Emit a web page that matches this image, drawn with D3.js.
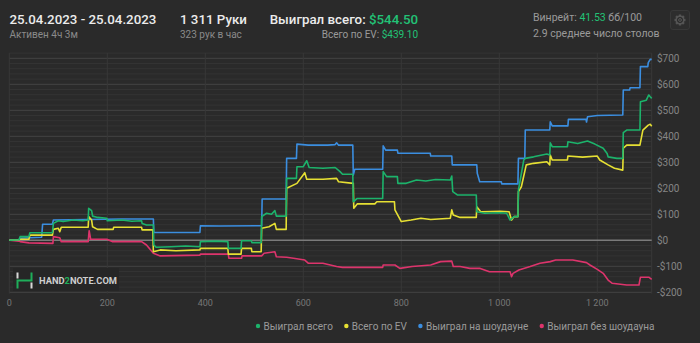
<!DOCTYPE html>
<html>
<head>
<meta charset="utf-8">
<script src="https://cdn.jsdelivr.net/npm/d3@7"></script>
<style>
  html, body { margin: 0; padding: 0; background: #2a2a2a; }
  svg { display: block; font-family: Roboto, "Noto Sans", Arial, sans-serif; }
</style>
</head>
<body>
<svg id="chart" width="700" height="343"></svg>
<script>

// hands played vs. dollars
var won_total = [[0,0],[20,2],[22,14],[40,14],[42,29],[88,29],[90,65],[100,75],[110,72],[130,78],[150,75],[161,78],[162,123],[168,114],[170,93],[180,88],[199,85],[200,75],[230,78],[250,73],[270,75],[271,65],[280,59],[294,59],[295,-18],[300,-27],[330,-25],[360,-22],[389,-25],[390,-5],[420,-3],[446,-5],[447,-31],[473,-31],[474,-2],[494,-2],[495,-9],[514,-9],[515,91],[525,104],[535,100],[542,114],[545,93],[565,93],[566,238],[586,238],[587,283],[600,283],[607,306],[612,280],[640,277],[665,280],[675,264],[680,254],[701,254],[702,148],[710,161],[762,161],[763,264],[770,245],[792,245],[793,219],[810,219],[831,232],[850,228],[870,234],[900,232],[903,247],[905,187],[915,174],[953,174],[954,110],[970,104],[1002,106],[1015,104],[1022,78],[1030,91],[1038,91],[1039,193],[1050,309],[1053,315],[1070,321],[1097,332],[1103,328],[1104,375],[1108,360],[1139,360],[1140,379],[1160,372],[1180,382],[1195,370],[1212,354],[1220,334],[1222,321],[1240,315],[1252,315],[1253,414],[1260,424],[1287,424],[1288,533],[1300,539],[1305,559],[1308,552],[1311,546]];

var won_ev = [[0,0],[20,2],[22,4],[40,4],[42,20],[88,20],[90,42],[100,46],[103,33],[106,50],[130,50],[161,50],[162,91],[168,78],[170,52],[180,42],[212,42],[213,50],[270,50],[271,40],[293,40],[294,-44],[308,-37],[340,-40],[389,-37],[390,-31],[446,-31],[447,-53],[473,-53],[474,-31],[494,-31],[495,-44],[514,-44],[515,46],[530,52],[542,65],[545,42],[565,42],[566,200],[587,219],[603,260],[607,235],[640,235],[668,238],[672,225],[702,219],[703,123],[710,140],[746,140],[750,148],[786,148],[787,117],[800,72],[820,78],[840,85],[860,80],[900,85],[903,117],[906,97],[920,88],[953,88],[954,129],[962,110],[1002,112],[1020,110],[1025,78],[1030,91],[1038,91],[1039,187],[1045,206],[1055,290],[1070,296],[1097,302],[1103,290],[1104,328],[1108,309],[1139,309],[1140,324],[1170,320],[1200,324],[1205,309],[1222,290],[1235,277],[1252,270],[1253,354],[1260,366],[1287,366],[1293,424],[1304,443],[1308,446],[1311,439]];

var won_showdown = [[0,0],[20,3],[22,8],[42,10],[66,12],[68,62],[88,62],[90,78],[160,80],[230,82],[294,82],[295,30],[389,30],[390,56],[430,55],[515,56],[516,159],[565,159],[566,315],[586,315],[587,370],[610,366],[650,366],[665,368],[668,375],[672,366],[701,366],[702,251],[705,273],[762,273],[763,363],[768,347],[792,347],[793,335],[859,335],[860,324],[903,324],[904,290],[954,290],[955,258],[960,225],[1004,225],[1005,217],[1038,217],[1039,315],[1052,315],[1053,424],[1103,424],[1104,456],[1108,440],[1140,440],[1141,465],[1177,465],[1178,455],[1180,475],[1200,480],[1252,482],[1253,578],[1266,578],[1267,587],[1287,587],[1288,668],[1303,668],[1304,683],[1308,696],[1311,696]];

var won_no_showdown = [[0,0],[20,-3],[22,-5],[40,-10],[89,-12],[90,14],[103,10],[106,-5],[161,-5],[163,37],[166,4],[199,4],[210,-5],[270,-5],[280,-18],[294,-50],[308,-60],[389,-57],[390,-53],[447,-53],[448,-69],[474,-69],[475,-60],[515,-60],[520,-50],[542,-44],[545,-63],[566,-65],[580,-69],[603,-76],[610,-88],[640,-88],[668,-101],[680,-104],[762,-104],[763,-95],[787,-95],[797,-108],[822,-101],[860,-95],[880,-82],[903,-80],[906,-101],[920,-101],[940,-108],[961,-108],[980,-121],[1022,-121],[1025,-140],[1028,-127],[1040,-114],[1063,-101],[1083,-88],[1104,-82],[1115,-76],[1150,-76],[1178,-86],[1185,-95],[1200,-112],[1212,-127],[1222,-153],[1230,-165],[1260,-172],[1285,-172],[1288,-142],[1305,-142],[1311,-150]];

var series_names  = ["Выиграл всего", "Всего по EV", "Выиграл на шоудауне", "Выиграл без шоудауна"];
var series_colors = ["#1cb36b", "#e6e033", "#3b8ee0", "#dd346c"];
var x_ticks = [0, 200, 400, 600, 800, 1000, 1200];
var y_ticks = [-200, -100, 0, 100, 200, 300, 400, 500, 600, 700];
var total_hands = 1311;


function fmt_hands( v ){
    // "1 000" with a space between thousands
    return d3.format(",")(v).replace(/,/g, "\u00a0");
}

function fmt_money( v ){
    return (v < 0 ? "-$" : "$") + Math.abs(v);
}

function add_text( grp, x, y, text, size, color, weight, anchor ){
    return grp.append("text")
        .attr("x", x)
        .attr("y", y)
        .attr("font-size", size + "px")
        .attr("font-weight", weight || 400)
        .attr("text-anchor", anchor || "start")
        .attr("fill", color)
        .text(text);
}


var svg = d3.select("#chart");

var x = d3.scaleLinear().domain([0, total_hands]).range([9.3, 651.7]);
var y = d3.scaleLinear().domain([-200, 700]).range([292.3, 58.3]);

var plot_top = y(720), plot_bot = y(-205);

// ---- grid
var grid = svg.append("g");

grid.selectAll("line.minor")
    .data(d3.range(-200, 721, 20).filter(function(v){ return v % 100 != 0; }))
    .enter().append("line")
    .attr("x1", x(0)).attr("x2", x(total_hands))
    .attr("y1", function(d){ return y(d); })
    .attr("y2", function(d){ return y(d); })
    .attr("stroke", "#333333")
    .attr("stroke-width", 1);

grid.selectAll("line.major")
    .data(y_ticks.filter(function(v){ return v != 0; }))
    .enter().append("line")
    .attr("x1", x(0)).attr("x2", x(total_hands))
    .attr("y1", function(d){ return y(d); })
    .attr("y2", function(d){ return y(d); })
    .attr("stroke", "#444444")
    .attr("stroke-width", 1);

grid.selectAll("line.vert")
    .data(x_ticks.concat([total_hands]))
    .enter().append("line")
    .attr("x1", function(d){ return x(d); })
    .attr("x2", function(d){ return x(d); })
    .attr("y1", plot_top).attr("y2", plot_bot)
    .attr("stroke", "#383838")
    .attr("stroke-width", 1);

// ---- watermark
var wm = svg.append("g");
wm.append("rect")
    .attr("x", 13).attr("y", 268).attr("width", 106).attr("height", 23)
    .attr("fill", "#262626");
wm.append("path")
    .attr("d", "M17.5,288.5 V280.5 H31.5 V272.5")
    .attr("fill", "none").attr("stroke", "#1fae5a").attr("stroke-width", 2);
wm.append("path")
    .attr("d", "M17.5,272.5 V278.5 M31.5,282.5 V288.5")
    .attr("fill", "none").attr("stroke", "#d8d8d8").attr("stroke-width", 2);
var wt = wm.append("text")
    .attr("x", 39).attr("y", 283.5)
    .attr("font-size", "9.5px").attr("font-weight", 700)
    .attr("fill", "#cfcfcf")
    .attr("textLength", 78).attr("lengthAdjust", "spacingAndGlyphs");
wt.append("tspan").text("HAND");
wt.append("tspan").attr("fill", "#1fae5a").text("2");
wt.append("tspan").text("NOTE.COM");

// ---- zero line
svg.append("line")
    .attr("x1", x(0)).attr("x2", x(total_hands))
    .attr("y1", y(0)).attr("y2", y(0))
    .attr("stroke", "#7a7a7a")
    .attr("stroke-width", 1.5);

// ---- series
var line = d3.line()
    .x(function(d){ return x(d[0]); })
    .y(function(d){ return y(d[1]); });

var all_series = [won_total, won_ev, won_showdown, won_no_showdown];
var draw_order = [3, 2, 1, 0];

svg.append("g").selectAll("path")
    .data(draw_order)
    .enter().append("path")
    .attr("d", function(i){ return line(all_series[i]); })
    .attr("fill", "none")
    .attr("stroke", function(i){ return series_colors[i]; })
    .attr("stroke-width", 1.6)
    .attr("stroke-linejoin", "round");

// ---- axes labels
var axis_g = svg.append("g");
x_ticks.forEach(function(t){
    add_text(axis_g, x(t), 306, fmt_hands(t), 9, "#777777", 400, "middle");
});
y_ticks.forEach(function(t){
    add_text(axis_g, 657, y(t) + 3.5, fmt_money(t), 10, "#858585", 400, "start");
});

// ---- legend
var leg = svg.append("g");
var lx = 0;
series_names.forEach(function(n, i){
    leg.append("circle")
        .attr("cx", lx + 2).attr("cy", 326).attr("r", 2.2)
        .attr("fill", series_colors[i]);
    var t = add_text(leg, lx + 7.5, 329.5, n, 10, "#9a9a9a", 400, "start");
    lx += 7.5 + t.node().getComputedTextLength() + 11.5;
});
leg.attr("transform", "translate(" + (256) + ",0)");

// ---- header
var hdr = svg.append("g");
add_text(hdr, 9.5, 24, "25.04.2023 - 25.04.2023", 13.3, "#ececec", 500);
add_text(hdr, 9.5, 37.5, "Активен 4ч 3м", 10, "#8a8a8a");
add_text(hdr, 180, 24, "1 311 Руки", 13.3, "#ececec", 500);
add_text(hdr, 180, 37.5, "323 рук в час", 10, "#8a8a8a");

var won = add_text(hdr, 418, 24, "", 13.3, "#ececec", 500, "end");
won.append("tspan").text("Выиграл всего: ");
won.append("tspan").attr("fill", "#22c276").text("$544.50");
var ev = add_text(hdr, 418, 37.5, "", 10, "#9a9a9a", 400, "end");
ev.append("tspan").text("Всего по EV: ");
ev.append("tspan").attr("fill", "#22c276").text("$439.10");

var wr = add_text(hdr, 533, 21, "", 10.5, "#9a9a9a");
wr.append("tspan").text("Винрейт: ");
wr.append("tspan").attr("fill", "#22c276").text("41.53");
wr.append("tspan").text(" бб/100");
add_text(hdr, 533, 37, "2.9 среднее число столов", 10.5, "#9a9a9a");

// gear button
hdr.append("rect")
    .attr("x", 670.5).attr("y", 10.5).attr("width", 19).attr("height", 19).attr("rx", 2.5)
    .attr("fill", "#2d2d2d").attr("stroke", "#383838");
var gear = hdr.append("g").attr("transform", "translate(680,20)");
gear.selectAll("rect")
    .data(d3.range(8))
    .enter().append("rect")
    .attr("x", -1.2).attr("y", -5.5).attr("width", 2.4).attr("height", 2.5)
    .attr("fill", "#555555")
    .attr("transform", function(d){ return "rotate(" + (d * 45) + ")"; });
gear.append("circle").attr("r", 3.8).attr("fill", "none").attr("stroke", "#555555").attr("stroke-width", 1.3);
gear.append("circle").attr("r", 1.4).attr("fill", "none").attr("stroke", "#555555").attr("stroke-width", 1);

</script>
</body>
</html>
